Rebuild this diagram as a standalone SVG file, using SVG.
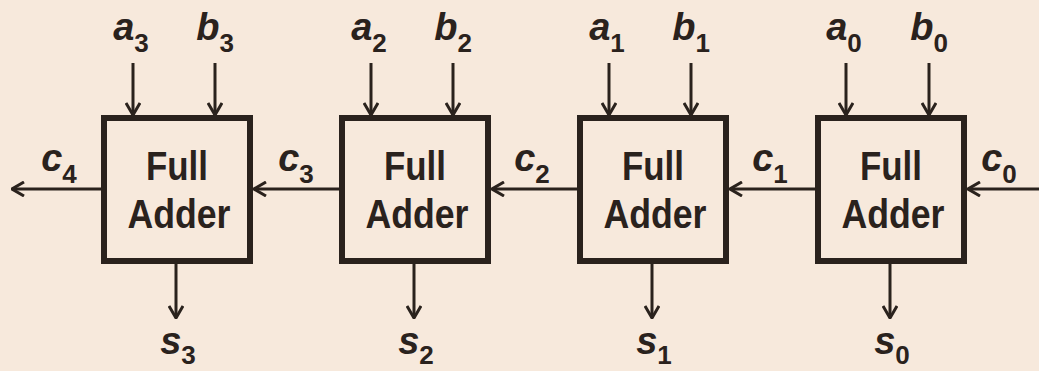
<svg xmlns="http://www.w3.org/2000/svg" width="1039" height="371" viewBox="0 0 1039 371">
  <defs>
    <style>
      .bg { fill: #f7e9dc; }
      .box { fill: none; stroke: #2a221d; stroke-width: 6; }
      .wire { fill: none; stroke: #2a221d; stroke-width: 3; }
      .title { font-family: "Liberation Sans", Arial, sans-serif; font-weight: bold; font-size: 40px; fill: #2a221d; text-anchor: middle; }
      .sig { font-family: "Liberation Sans", Arial, sans-serif; font-weight: bold; font-style: italic; font-size: 38px; fill: #2a221d; text-anchor: middle; }
      .sub { font-size: 26px; font-style: normal; }
    </style>
    <marker id="head" viewBox="0 0 14 16" refX="13" refY="8" markerWidth="14" markerHeight="16" markerUnits="userSpaceOnUse" orient="auto">
      <path d="M1,1 L13,8 L1,15" fill="none" stroke="#2a221d" stroke-width="3"/>
    </marker>
  </defs>

  <rect class="bg" x="0" y="0" width="1039" height="371"/>

  <!-- ripple-carry chain, most significant stage on the left -->
  <g id="fa3">
    <rect class="box" x="104" y="118" width="146" height="143"/>
    <text class="title" x="177" y="180" textLength="62" lengthAdjust="spacingAndGlyphs">Full</text>
    <text class="title" x="179" y="228" textLength="103" lengthAdjust="spacingAndGlyphs">Adder</text>
  </g>
  <g id="fa2">
    <rect class="box" x="342" y="118" width="146" height="143"/>
    <text class="title" x="415" y="180" textLength="62" lengthAdjust="spacingAndGlyphs">Full</text>
    <text class="title" x="417" y="228" textLength="103" lengthAdjust="spacingAndGlyphs">Adder</text>
  </g>
  <g id="fa1">
    <rect class="box" x="580" y="118" width="146" height="143"/>
    <text class="title" x="653" y="180" textLength="62" lengthAdjust="spacingAndGlyphs">Full</text>
    <text class="title" x="655" y="228" textLength="103" lengthAdjust="spacingAndGlyphs">Adder</text>
  </g>
  <g id="fa0">
    <rect class="box" x="818" y="118" width="146" height="143"/>
    <text class="title" x="891" y="180" textLength="62" lengthAdjust="spacingAndGlyphs">Full</text>
    <text class="title" x="893" y="228" textLength="103" lengthAdjust="spacingAndGlyphs">Adder</text>
  </g>

  <g id="connectors">
    <!-- operand inputs -->
    <line class="wire" x1="133" y1="63" x2="133" y2="115" marker-end="url(#head)"/>
    <line class="wire" x1="215" y1="63" x2="215" y2="115" marker-end="url(#head)"/>
    <line class="wire" x1="371" y1="63" x2="371" y2="115" marker-end="url(#head)"/>
    <line class="wire" x1="453" y1="63" x2="453" y2="115" marker-end="url(#head)"/>
    <line class="wire" x1="609" y1="63" x2="609" y2="115" marker-end="url(#head)"/>
    <line class="wire" x1="691" y1="63" x2="691" y2="115" marker-end="url(#head)"/>
    <line class="wire" x1="846" y1="63" x2="846" y2="115" marker-end="url(#head)"/>
    <line class="wire" x1="929" y1="63" x2="929" y2="115" marker-end="url(#head)"/>
    <!-- carries -->
    <line class="wire" x1="101" y1="189" x2="12" y2="189" marker-end="url(#head)"/>
    <line class="wire" x1="339" y1="189" x2="254" y2="189" marker-end="url(#head)"/>
    <line class="wire" x1="577" y1="189" x2="492" y2="189" marker-end="url(#head)"/>
    <line class="wire" x1="815" y1="189" x2="730" y2="189" marker-end="url(#head)"/>
    <line class="wire" x1="1039" y1="189" x2="968" y2="189" marker-end="url(#head)"/>
    <!-- sum outputs -->
    <line class="wire" x1="176" y1="264" x2="176" y2="318" marker-end="url(#head)"/>
    <line class="wire" x1="414" y1="264" x2="414" y2="318" marker-end="url(#head)"/>
    <line class="wire" x1="652" y1="264" x2="652" y2="318" marker-end="url(#head)"/>
    <line class="wire" x1="890" y1="264" x2="890" y2="318" marker-end="url(#head)"/>
  </g>

  <g id="labels">
    <text class="sig" x="131" y="40">a<tspan class="sub" dy="12">3</tspan></text>
    <text class="sig" x="215" y="40">b<tspan class="sub" dy="12">3</tspan></text>
    <text class="sig" x="369" y="40">a<tspan class="sub" dy="12">2</tspan></text>
    <text class="sig" x="453" y="40">b<tspan class="sub" dy="12">2</tspan></text>
    <text class="sig" x="607" y="40">a<tspan class="sub" dy="12">1</tspan></text>
    <text class="sig" x="691" y="40">b<tspan class="sub" dy="12">1</tspan></text>
    <text class="sig" x="844" y="40">a<tspan class="sub" dy="12">0</tspan></text>
    <text class="sig" x="929" y="40">b<tspan class="sub" dy="12">0</tspan></text>

    <text class="sig" x="59" y="171">c<tspan class="sub" dy="12">4</tspan></text>
    <text class="sig" x="296" y="171">c<tspan class="sub" dy="12">3</tspan></text>
    <text class="sig" x="532" y="171">c<tspan class="sub" dy="12">2</tspan></text>
    <text class="sig" x="770" y="171">c<tspan class="sub" dy="12">1</tspan></text>
    <text class="sig" x="999" y="171">c<tspan class="sub" dy="12">0</tspan></text>

    <text class="sig" x="178" y="354">s<tspan class="sub" dy="10">3</tspan></text>
    <text class="sig" x="416" y="354">s<tspan class="sub" dy="10">2</tspan></text>
    <text class="sig" x="654" y="354">s<tspan class="sub" dy="10">1</tspan></text>
    <text class="sig" x="892" y="354">s<tspan class="sub" dy="10">0</tspan></text>
  </g>
</svg>
